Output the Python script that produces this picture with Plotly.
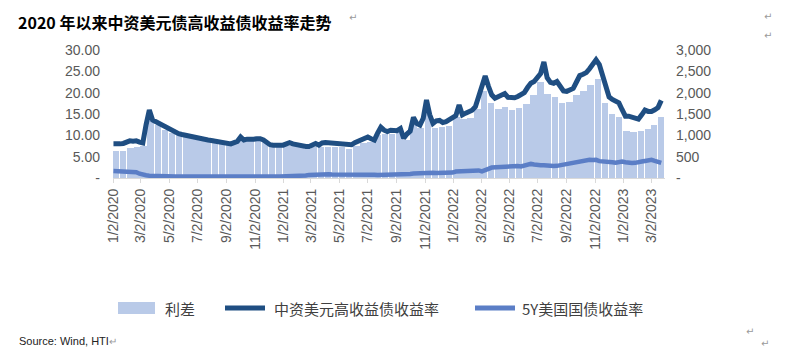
import pandas as pd
import plotly.graph_objects as go

# ---------------- data ----------------
week_dates = pd.date_range("2020-01-03", "2023-03-24", freq="W-FRI")

# 中资美元高收益债收益率 (%), weekly
hy_yield = [
    # 2020
    8.0, 7.9, 8.0, 8.1, 8.5,
    8.7, 8.6, 8.7, 8.4,
    8.2, 12.5, 15.9, 13.6,
    13.2, 12.8, 12.2, 11.7,
    11.3, 11.0, 10.7, 10.4, 10.2,
    10.0, 9.8, 9.7, 9.5,
    9.4, 9.2, 9.0, 8.9, 8.8,
    8.7, 8.6, 8.5, 8.4,
    8.1, 8.0, 8.3, 8.6,
    9.6, 8.9, 9.1, 9.0, 9.1,
    9.2, 9.2, 8.9, 8.3,
    7.8, 7.7, 7.8, 7.7,
    # 2021
    7.7, 8.0, 8.3, 8.0, 7.8,
    7.7, 7.6, 7.4, 7.4,
    7.8, 8.1, 7.7, 8.2,
    8.3, 8.2, 8.1, 8.1, 8.1,
    8.1, 7.9, 7.7, 7.8,
    8.3, 8.6, 9.0, 9.3,
    9.6, 9.2, 8.9, 10.5, 11.9,
    11.2, 10.9, 11.2, 11.0,
    11.1, 11.6, 9.3, 10.3,
    11.0, 14.2, 12.8, 12.4, 14.0,
    18.3, 14.8, 12.8, 13.4,
    13.5, 13.0, 13.2, 13.6, 14.2,
    # 2022
    14.6, 17.1, 14.8, 15.2,
    15.5, 15.9, 16.7, 19.0,
    20.8, 23.9, 21.5, 19.5,
    18.7, 19.0, 19.5, 19.8, 18.9,
    18.7, 18.8, 19.1, 19.6,
    20.0, 21.2, 22.2, 22.6,
    23.5, 24.5, 27.2, 23.5, 22.4,
    22.2, 22.6, 21.4, 20.4,
    20.3, 20.6, 21.0, 22.5, 24.0,
    24.3, 24.7, 25.6, 26.5,
    27.7, 26.6, 24.0, 21.5,
    19.0, 18.4, 18.0, 17.6, 16.0,
    # 2023
    14.5, 14.5, 14.3, 13.9,
    13.8, 14.8, 15.9, 15.6,
    15.6, 16.0, 16.5, 18.2,
]

# 5Y美国国债收益率 (%), weekly
ust_5y = [
    # 2020
    1.65, 1.62, 1.65, 1.55, 1.35,
    1.40, 1.42, 1.35, 1.00,
    0.70, 0.65, 0.55, 0.50,
    0.40, 0.40, 0.38, 0.37,
    0.36, 0.35, 0.34, 0.34, 0.33,
    0.35, 0.36, 0.34, 0.33,
    0.30, 0.30, 0.29, 0.28, 0.27,
    0.25, 0.26, 0.28, 0.29,
    0.28, 0.27, 0.28, 0.28,
    0.29, 0.30, 0.32, 0.34, 0.36,
    0.38, 0.42, 0.40, 0.38,
    0.40, 0.38, 0.37, 0.37,
    # 2021
    0.37, 0.47, 0.45, 0.43, 0.42,
    0.47, 0.48, 0.58, 0.73,
    0.78, 0.85, 0.88, 0.87,
    0.92, 0.87, 0.84, 0.85, 0.86,
    0.80, 0.84, 0.84, 0.81,
    0.78, 0.75, 0.88, 0.88,
    0.87, 0.79, 0.78, 0.70, 0.70,
    0.76, 0.78, 0.77, 0.80,
    0.78, 0.80, 0.87, 0.95,
    0.95, 1.06, 1.12, 1.20, 1.18,
    1.18, 1.23, 1.22, 1.17,
    1.14, 1.24, 1.18, 1.24, 1.26,
    # 2022
    1.50, 1.56, 1.55, 1.62,
    1.77, 1.85, 1.82, 1.78,
    1.55, 1.95, 2.14, 2.45,
    2.50, 2.70, 2.75, 2.85, 2.90,
    2.95, 2.85, 2.80, 2.72,
    2.90, 3.20, 3.30, 3.15,
    2.95, 3.00, 3.00, 2.85, 2.70,
    2.80, 2.85, 3.00, 3.10,
    3.25, 3.35, 3.55, 3.80, 4.00,
    4.10, 4.20, 4.25, 4.20,
    4.25, 3.95, 3.95, 3.85,
    3.70, 3.70, 3.60, 3.75, 3.85,
    # 2023
    3.70, 3.55, 3.50, 3.55,
    3.60, 3.85, 4.00, 4.10,
    4.25, 4.00, 3.70, 3.55,
]

# 利差 (bp), semi-monthly
spread_dates = [f"{y}-{m:02d}-{d:02d}"
                for y in (2020, 2021, 2022, 2023)
                for m in range(1, 13)
                for d in (8, 23)
                if (y, m) <= (2023, 3)]
spread_bp = [
    # 2020
    635, 640, 710, 730, 760, 1420, 1250, 1130, 1060, 1000, 950, 920,
    900, 870, 845, 820, 780, 840, 880, 875, 880, 850, 760, 745,
    # 2021
    760, 760, 725, 680, 720, 730, 730, 725, 720, 690, 760, 830,
    850, 1010, 1040, 1020, 1060, 900, 1250, 1180, 1520, 1180, 1200, 1220,
    # 2022
    1420, 1380, 1400, 1620, 2050, 1750, 1620, 1660, 1600, 1650, 1740, 1940,
    2250, 1980, 1900, 1750, 1780, 1950, 2050, 2180, 2330, 1750, 1500, 1420,
    # 2023
    1100, 1070, 1110, 1160, 1250, 1420,
]

left_ticks = [0, 5, 10, 15, 20, 25, 30]
left_labels = ["-", "5.00", "10.00", "15.00", "20.00", "25.00", "30.00"]
right_ticks = [0, 500, 1000, 1500, 2000, 2500, 3000]
right_labels = ["-", "500", "1,000", "1,500", "2,000", "2,500", "3,000"]

series_names = ["利差", "中资美元高收益债收益率", "5Y美国国债收益率"]
title_text = "2020 年以来中资美元债高收益债收益率走势"
source_text = "Source: Wind, HTI"

# ---------------- styling ----------------
BAR_C = "#B9CAE8"
HY_C = "#1F4E82"
UST_C = "#5B7EC6"
TICK_C = "#595959"
TICK_FONT = dict(family="Liberation Sans, Arial, sans-serif", size=14, color=TICK_C)
CJK = "Noto Sans CJK SC, sans-serif"

OFF = 8  # page body margin of the html page
W, H = 790 - OFF, 357 - OFF
# plot area in window pixels
L, R, T, B = 113, 665, 50, 178


def px(x):
    return (x - L) / (R - L)


def py(y):
    return (B - y) / (B - T)


fig = go.Figure()
fig.add_trace(go.Bar(
    x=spread_dates, y=spread_bp, name=series_names[0], yaxis="y",
    marker=dict(color=BAR_C, line=dict(width=0)),
    width=14.0 * 86400000,
))
fig.add_trace(go.Scatter(
    x=week_dates, y=ust_5y, name=series_names[2], yaxis="y2", mode="lines",
    line=dict(color=UST_C, width=4.5),
))
fig.add_trace(go.Scatter(
    x=week_dates, y=hy_yield, name=series_names[1], yaxis="y2", mode="lines",
    line=dict(color=HY_C, width=5),
))

fig.update_layout(
    width=W, height=H,
    margin=dict(l=L - OFF, r=790 - R, t=T - OFF, b=357 - B),
    paper_bgcolor="white", plot_bgcolor="white",
    showlegend=False,
    bargap=0,
    xaxis=dict(
        type="date", range=["2020-01-02", "2023-04-01"],
        tick0="2020-01-02", dtick="M2", tickformat="%-m/%-d/%Y",
        tickangle=-90, tickfont=TICK_FONT,
        showgrid=False, zeroline=False,
        showline=True, linecolor="#D9D9D9", linewidth=1,
        ticks="outside", ticklen=4, tickcolor="#D9D9D9",
    ),
    yaxis=dict(
        range=[0, 3000], side="right",
        tickvals=right_ticks, ticktext=right_labels,
        tickfont=TICK_FONT, showgrid=False, zeroline=False,
        showline=False, ticks="", ticklabelstandoff=10,
    ),
    yaxis2=dict(
        range=[0, 30], side="left", overlaying="y",
        tickvals=left_ticks, ticktext=left_labels,
        tickfont=TICK_FONT, showgrid=False, zeroline=False,
        showline=False, ticks="", ticklabelstandoff=12,
    ),
)

MARK = "<span style='color:#9A9A9A;font-size:10px;font-weight:normal'>↵</span>"

ann = []
ann.append(dict(text=f"<b>{title_text}</b>", x=px(17), y=py(OFF + 0.5), xref="paper", yref="paper",
                xanchor="left", yanchor="top", showarrow=False, borderpad=0,
                font=dict(family=CJK, size=16, color="#000000")))
ann.append(dict(text=source_text + MARK, x=px(17), y=py(341), xref="paper", yref="paper",
                xanchor="left", yanchor="middle", showarrow=False,
                font=dict(family="Liberation Sans Narrow, Liberation Sans, sans-serif", size=11, color="#222222")))
# Word paragraph marks visible in the reference
for (mx, my) in [(347, 17), (762, 16), (762, 35), (744, 331), (759, 343)]:
    ann.append(dict(text="↵", x=px(mx), y=py(my), xref="paper", yref="paper",
                    xanchor="left", yanchor="middle", showarrow=False,
                    font=dict(family="DejaVu Sans, sans-serif", size=10, color="#9A9A9A")))

# custom legend
LEG_Y = 308
shapes = [
    dict(type="rect", xref="paper", yref="paper", x0=px(118), x1=px(155),
         y0=py(314), y1=py(302), fillcolor=BAR_C, line=dict(width=0)),
    dict(type="line", xref="paper", yref="paper", x0=px(225), x1=px(265),
         y0=py(LEG_Y), y1=py(LEG_Y), line=dict(color=HY_C, width=5)),
    dict(type="line", xref="paper", yref="paper", x0=px(475), x1=px(515),
         y0=py(LEG_Y), y1=py(LEG_Y), line=dict(color=UST_C, width=5)),
]
for text, lx in [(series_names[0], 163), (series_names[1], 272), (series_names[2], 520)]:
    ann.append(dict(text=text, x=px(lx), y=py(LEG_Y), xref="paper", yref="paper",
                    xanchor="left", yanchor="middle", showarrow=False,
                    font=dict(family=CJK, size=15, color="#404040")))

fig.update_layout(annotations=ann, shapes=shapes)
fig.write_html("out.html")
